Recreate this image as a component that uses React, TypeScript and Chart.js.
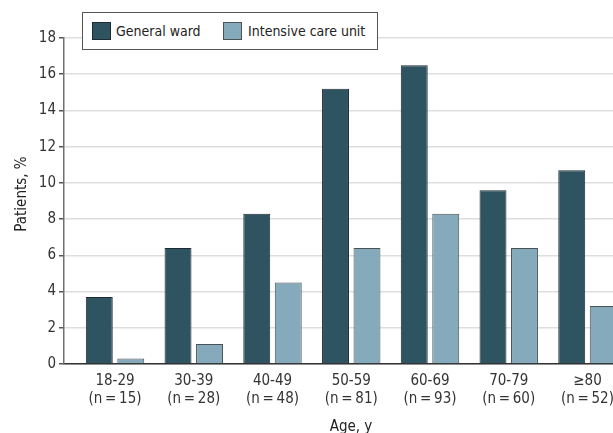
import React, { useEffect, useRef } from 'react';
import { Chart, registerables } from 'chart.js';

Chart.register(...registerables);

const categories = ['18-29', '30-39', '40-49', '50-59', '60-69', '70-79', '≥80'];
const sampleSizes = ['(n\u2009=\u200915)', '(n\u2009=\u200928)', '(n\u2009=\u200948)', '(n\u2009=\u200981)', '(n\u2009=\u200993)', '(n\u2009=\u200960)', '(n\u2009=\u200952)'];
const seriesNames = ['General ward', 'Intensive care unit'];
const generalWard = [3.7, 6.4, 8.3, 15.2, 16.5, 9.6, 10.7];
const intensiveCare = [0.3, 1.1, 4.5, 6.4, 8.3, 6.4, 3.2];
const xTitle = 'Age, y';
const yTitle = 'Patients, %';

const FONT = '"DejaVu Sans Condensed", "Liberation Sans Narrow", "DejaVu Sans", sans-serif';
const GW_COLOR = '#2e5361';
const GW_BORDER = '#1e2b31';
const ICU_COLOR = '#85aabb';
const ICU_BORDER = '#4b5256';

export default function App() {
  const ref = useRef<HTMLCanvasElement>(null);

  useEffect(() => {
    const canvas = ref.current!;
    const titles = {
      id: 'axisTitles',
      afterDraw(chart: any) {
        const c = chart.ctx;
        c.save();
        c.fillStyle = '#222';
        c.font = `15px ${FONT}`;
        c.textAlign = 'center';
        c.textBaseline = 'alphabetic';
        c.fillText(xTitle, 343, 423);
        c.translate(14, 186);
        c.rotate(-Math.PI / 2);
        c.textBaseline = 'middle';
        c.fillText(yTitle, 0, 0);
        c.restore();
      },
    };
    const chart = new Chart(canvas, {
      type: 'bar',
      data: {
        datasets: [
          {
            label: seriesNames[0],
            data: generalWard.map((y, i) => ({ x: i, y })),
            backgroundColor: GW_COLOR,
            borderColor: GW_BORDER,
            borderWidth: 1,
            categoryPercentage: 0.8,
            barPercentage: 0.855,
          },
          {
            label: seriesNames[1],
            data: intensiveCare.map((y, i) => ({ x: i, y })),
            backgroundColor: ICU_COLOR,
            borderColor: ICU_BORDER,
            borderWidth: 1,
            categoryPercentage: 0.8,
            barPercentage: 0.855,
          },
        ],
      },
      options: {
        responsive: false,
        animation: false,
        layout: { padding: { top: 30, left: 0, right: 0, bottom: 0 } },
        plugins: { legend: { display: false }, tooltip: { enabled: false } },
        scales: {
          x: {
            type: 'linear',
            min: -0.648,
            max: 6.324,
            offset: false,
            afterBuildTicks: (s: any) => {
              s.ticks = categories.map((_, i) => ({ value: i }));
            },
            afterFit: (s: any) => {
              s.height = 69;
              s.paddingLeft = 0;
              s.paddingRight = 0;
            },
            grid: { display: false, drawTicks: false, offset: false },
            border: { display: true, color: '#333', width: 1.5 },
            ticks: {
              padding: 8,
              color: '#333',
              font: { family: FONT, size: 15 },
              maxRotation: 0,
              autoSkip: false,
              callback: (v: any) => [categories[v], sampleSizes[v]],
            },
          },
          y: {
            min: 0,
            max: 18,
            afterFit: (s: any) => {
              s.width = 56;
              s.paddingTop = 0;
              s.paddingBottom = 0;
            },
            ticks: { stepSize: 2, padding: 3, color: '#333', font: { family: FONT, size: 15 } },
            grid: { color: '#dedede', lineWidth: 1.5, tickColor: '#555', tickLength: 5, drawTicks: true },
            border: { color: '#707070', width: 1.5 },
          },
        },
      },
      plugins: [titles],
    } as any);
    return () => chart.destroy();
  }, []);

  const swatch = (left: number, color: string, border: string) => ({
    position: 'absolute' as const,
    left,
    top: 9,
    width: 19,
    height: 18,
    boxSizing: 'border-box' as const,
    background: color,
    border: `1px solid ${border}`,
  });
  const label = (left: number) => ({
    position: 'absolute' as const,
    left,
    top: 0,
    lineHeight: '36px',
    fontSize: 14,
    fontFamily: FONT,
    color: '#222',
    whiteSpace: 'nowrap' as const,
  });

  return (
    <div style={{ position: 'relative', width: 605, height: 425 }}>
      <style>{'html{overflow:hidden} body{margin:8px 0 0 8px}'}</style>
      <canvas ref={ref} width={605} height={425} style={{ display: 'block', width: 605, height: 425 }} />
      <div
        style={{
          position: 'absolute',
          left: 74,
          top: 4,
          width: 296,
          height: 38,
          boxSizing: 'border-box',
          border: '1px solid #555',
          background: '#fff',
        }}
      >
        <div style={swatch(9, GW_COLOR, GW_BORDER)} />
        <span style={label(33)}>{seriesNames[0]}</span>
        <div style={swatch(140, ICU_COLOR, ICU_BORDER)} />
        <span style={label(165)}>{seriesNames[1]}</span>
      </div>
    </div>
  );
}
